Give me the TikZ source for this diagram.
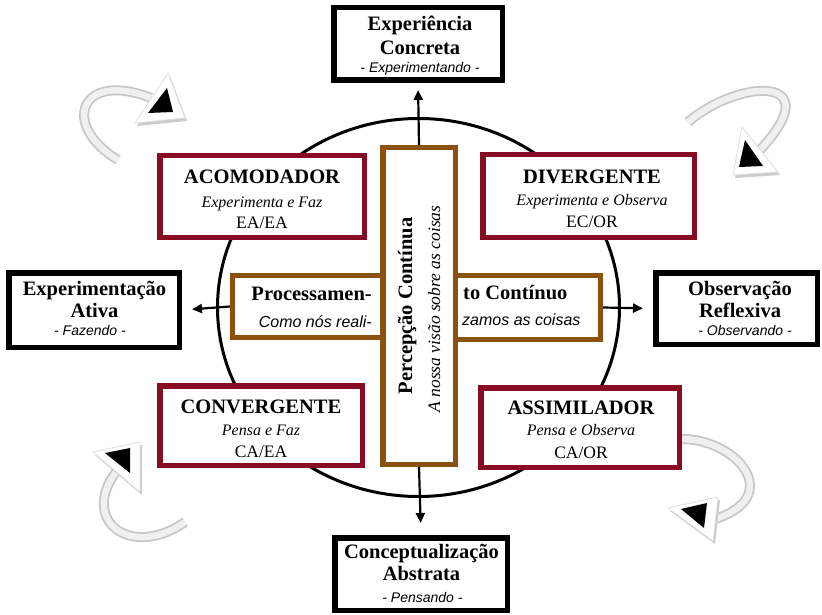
\documentclass[tikz,border=0pt]{standalone}
\usepackage{fontspec}
\setmainfont{Liberation Serif}
\newfontfamily\sansit{Liberation Sans}
\usetikzlibrary{arrows.meta}
\definecolor{maroonc}{RGB}{135,12,35}
\definecolor{brownc}{RGB}{140,80,15}
\tikzset{
  blackbox/.style={draw=black, line width=5.5pt, fill=white, inner sep=0pt},
  redbox/.style={draw=maroonc, line width=5.5pt, fill=white, inner sep=0pt},
  brownbox/.style={draw=brownc, line width=5pt, fill=white, inner sep=0pt},
  ttl/.style={anchor=base, inner sep=0pt, font=\fontsize{20.5}{23}\selectfont\bfseries},
  sub/.style={anchor=base, inner sep=0pt, font=\fontsize{16}{18}\selectfont\itshape},
  code/.style={anchor=base, inner sep=0pt, font=\fontsize{17.5}{20}\selectfont},
  act/.style={anchor=base, inner sep=0pt, font=\fontsize{14}{16}\selectfont\sansit\itshape},
  midit/.style={anchor=base, inner sep=0pt, font=\fontsize{16}{18}\selectfont\sansit\itshape},
  conn/.style={line width=2.2pt, -{Triangle[length=10pt,width=9pt]}},
  bandout/.style={draw=gray!45, line width=10pt, line cap=butt},
  bandin/.style={draw=gray!12, line width=6.5pt, line cap=butt},
  headshadow/.style={fill=gray!40},
  headwhite/.style={fill=white, draw=gray!25, line width=0.8pt},
  headblack/.style={fill=black}
}
\begin{document}
\begin{tikzpicture}[x=1pt,y=-1pt]
\useasboundingbox (0,0) rectangle (822,615);
\fill[white] (0,0) rectangle (822,615);

% ---- decorative loop arrows ----
% top-left
\path[bandout] (118,160) .. controls (60,125) and (80,70) .. (151,98);
\path[bandin]  (118,160) .. controls (60,125) and (80,70) .. (151,98);
\fill[headshadow] (170,76) -- (187,121) -- (137,126) -- cycle;
\filldraw[headwhite] (168,73) -- (185,118) -- (135,123) -- cycle;
\fill[headblack] (167,88) -- (173,112) -- (148,113) -- cycle;
% top-right
\path[bandout] (688,122) .. controls (740,78) and (830,75) .. (760,150);
\path[bandin]  (688,122) .. controls (740,78) and (830,75) .. (760,150);
\fill[headshadow] (744,130) -- (780,175) -- (735,178) -- cycle;
\filldraw[headwhite] (742,127) -- (778,172) -- (733,175) -- cycle;
\fill[headblack] (745,140) -- (763,166) -- (739,167) -- cycle;
% bottom-left
\path[bandout] (185,522) .. controls (130,560) and (80,520) .. (116,472);
\path[bandin]  (185,522) .. controls (130,560) and (80,520) .. (116,472);
\fill[headshadow] (95,455) -- (142,445) -- (142,495) -- cycle;
\filldraw[headwhite] (93,452) -- (140,442) -- (140,492) -- cycle;
\fill[headblack] (105,453) -- (130,448) -- (130,473) -- cycle;
% bottom-right
\path[bandout] (668,440) .. controls (730,430) and (790,495) .. (715,519);
\path[bandin]  (668,440) .. controls (730,430) and (790,495) .. (715,519);
\fill[headshadow] (670,511) -- (720,500) -- (715,544) -- cycle;
\filldraw[headwhite] (668,508) -- (718,497) -- (713,541) -- cycle;
\fill[headblack] (681,509) -- (707,503) -- (704,528) -- cycle;

% ---- circle ----
\draw[line width=3pt] (418.5,307.5) ellipse [x radius=201pt, y radius=189pt];

% ---- outer boxes ----
\node[blackbox, minimum width=168.5pt, minimum height=72.5pt] (ec) at (418,44) {};
\node[blackbox, minimum width=170.5pt, minimum height=74.5pt] (ea) at (94,310) {};
\node[blackbox, minimum width=161.5pt, minimum height=71.5pt] (or) at (736.5,308.5) {};
\node[blackbox, minimum width=172.5pt, minimum height=72.5pt] (ca) at (421,574) {};

% ---- style boxes ----
\node[redbox, minimum width=204.5pt, minimum height=81.5pt] (acom) at (262,196.5) {};
\node[redbox, minimum width=211.5pt, minimum height=82.5pt] (div) at (588.5,196) {};
\node[redbox, minimum width=202.5pt, minimum height=79.5pt] (conv) at (261,425.5) {};
\node[redbox, minimum width=198.5pt, minimum height=79.5pt] (assim) at (580,427.5) {};

% ---- central boxes ----
\node[brownbox, minimum width=165pt, minimum height=62pt] (proc) at (315,306.5) {};
\node[brownbox, minimum width=158pt, minimum height=64pt] (cont) at (521.5,307.5) {};
\node[brownbox, line width=5.5pt, minimum width=72.5pt, minimum height=316.5pt] (perc) at (419,306) {};

% ---- connectors ----
\draw[conn, shorten >=7pt] (perc.north) -- (ec.south);
\draw[conn, shorten >=12pt] (perc.south) -- (ca.north);
\draw[conn, shorten >=10pt] (proc.west) -- (ea.east);
\draw[conn, shorten >=10pt] (cont.east) -- (or.west);

% ---- texts ----
\node[ttl] (ec1) at (420,31) {Experiência};
\node[ttl] (ec2) at (420,55) {Concreta};
\node[act] (ec3) at (420,73) {- Experimentando -};

\node[ttl] (ea1) at (94.5,295) {Experimentação};
\node[ttl] (ea2) at (94.5,317) {Ativa};
\node[act] (ea3) at (90,335) {- Fazendo -};

\node[ttl] (or1) at (740,295) {Observação};
\node[ttl] (or2) at (740,317) {Reflexiva};
\node[act] (or3) at (745,335) {- Observando -};

\node[ttl] (ca1) at (421.5,558) {Conceptualização};
\node[ttl] (ca2) at (421.5,580) {Abstrata};
\node[act] (ca3) at (422.5,602) {- Pensando -};

\node[ttl] (acom1) at (262,183) {ACOMODADOR};
\node[sub] (acom2) at (262,207) {Experimenta e Faz};
\node[code] (acom3) at (262,228) {EA/EA};

\node[ttl] (div1) at (592,183) {DIVERGENTE};
\node[sub] (div2) at (592,205) {Experimenta e Observa};
\node[code] (div3) at (592,227) {EC/OR};

\node[ttl] (conv1) at (261,413) {CONVERGENTE};
\node[sub] (conv2) at (261,435) {Pensa e Faz};
\node[code] (conv3) at (261,457) {CA/EA};

\node[ttl] (assim1) at (581,414) {ASSIMILADOR};
\node[sub] (assim2) at (581,435) {Pensa e Observa};
\node[code] (assim3) at (581,458) {CA/OR};

\node[ttl, anchor=base east] (proc1) at (372,300) {Processamen-};
\node[midit, anchor=base east] (proc2) at (372,327) {Como nós reali-};
\node[ttl, anchor=base west] (cont1) at (463,299) {to Contínuo};
\node[midit, anchor=base west] (cont2) at (462,325) {zamos as coisas};

\node[ttl, rotate=90] (perc1) at (412,306) {Percepção Contínua};
\node[sub, rotate=90, font=\fontsize{17.5}{20}\selectfont\itshape] (perc2) at (440,309) {A nossa visão sobre as coisas};
\end{tikzpicture}
\end{document}
